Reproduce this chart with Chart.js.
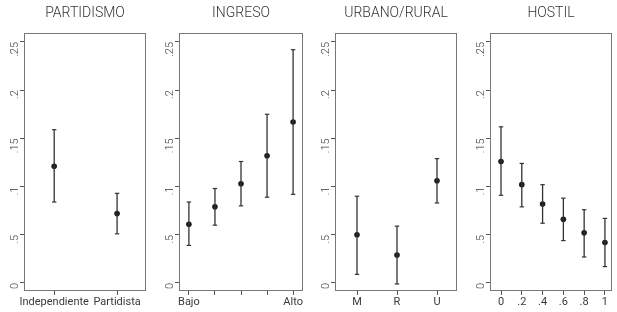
<!DOCTYPE html>
<html>
<head>
<meta charset="utf-8">
<script src="https://cdn.jsdelivr.net/npm/chart.js@4.4.1/dist/chart.umd.min.js"></script>
<style>
  html, body { margin: 0; padding: 0; background: #fff; }
  body { width: 617px; height: 312px; position: relative; overflow: hidden; }
  .panel { position: absolute; top: 0; height: 312px; }
</style>
</head>
<body>
<div class="panel" id="p0"><canvas id="c0"></canvas></div>
<div class="panel" id="p1"><canvas id="c1"></canvas></div>
<div class="panel" id="p2"><canvas id="c2"></canvas></div>
<div class="panel" id="p3"><canvas id="c3"></canvas></div>
<script>
// y axis (shared) - the original labels .05 as ".5"
const yTickValues = [0, 0.05, 0.1, 0.15, 0.2, 0.25];
const yTickLabels = ['0', '.5', '.1', '.15', '.2', '.25'];

// PARTIDISMO
const partX = [1, 2];
const partLabels = ['Independiente', 'Partidista'];
const partEst = [0.121, 0.072];
const partLo = [0.084, 0.051];
const partHi = [0.159, 0.093];

// INGRESO
const ingX = [1, 2, 3, 4, 5];
const ingLabels = ['Bajo', '', '', '', 'Alto'];
const ingEst = [0.061, 0.079, 0.103, 0.132, 0.167];
const ingLo = [0.039, 0.060, 0.080, 0.089, 0.092];
const ingHi = [0.084, 0.098, 0.126, 0.175, 0.242];

// URBANO/RURAL
const urbX = [1, 2, 3];
const urbLabels = ['M', 'R', 'U'];
const urbEst = [0.050, 0.029, 0.106];
const urbLo = [0.009, -0.001, 0.083];
const urbHi = [0.090, 0.059, 0.129];

// HOSTIL
const hosX = [0, 0.2, 0.4, 0.6, 0.8, 1];
const hosLabels = ['0', '.2', '.4', '.6', '.8', '1'];
const hosEst = [0.126, 0.102, 0.082, 0.066, 0.052, 0.042];
const hosLo = [0.091, 0.079, 0.062, 0.044, 0.027, 0.017];
const hosHi = [0.162, 0.124, 0.102, 0.088, 0.076, 0.067];

const panels = [
  { title: 'PARTIDISMO', x: partX, labels: partLabels, est: partEst, lo: partLo, hi: partHi, xmin: 0.52, xmax: 2.46, left: 24, right: 146 },
  { title: 'INGRESO', x: ingX, labels: ingLabels, est: ingEst, lo: ingLo, hi: ingHi, xmin: 0.62, xmax: 5.38, left: 179, right: 303 },
  { title: 'URBANO/RURAL', x: urbX, labels: urbLabels, est: urbEst, lo: urbLo, hi: urbHi, xmin: 0.45, xmax: 3.5, left: 335, right: 457 },
  { title: 'HOSTIL', x: hosX, labels: hosLabels, est: hosEst, lo: hosLo, hi: hosHi, xmin: -0.106, xmax: 1.068, left: 490, right: 612 }
];

const Y_AXIS_W = 24;
const BOX_TOP = 33;
const X_AXIS_H = 21;
const textColor = '#3a3a3a';
const fontFamily = 'Roboto, "Noto Sans", sans-serif';

const framePlugin = {
  id: 'frame',
  afterDraw(chart, args, opts) {
    const { ctx, chartArea: a } = chart;
    ctx.save();
    ctx.strokeStyle = '#777';
    ctx.lineWidth = 1;
    ctx.strokeRect(a.left + 0.5, a.top + 0.5, a.right - a.left - 1, a.bottom - a.top - 1);
    ctx.fillStyle = '#333';
    ctx.font = '300 14px ' + fontFamily;
    ctx.textAlign = 'center';
    ctx.textBaseline = 'middle';
    ctx.fillText(opts.title, (a.left + a.right) / 2, 13);
    ctx.restore();
  }
};

panels.forEach((p, i) => {
  const w = p.right - p.left;
  const div = document.getElementById('p' + i);
  div.style.left = (p.left - Y_AXIS_W) + 'px';
  div.style.width = (w + Y_AXIS_W + 24) + 'px';

  // error bars: one dataset, segments split by null points
  const bars = [];
  p.x.forEach((xv, k) => {
    bars.push({ x: xv, y: p.lo[k] }, { x: xv, y: p.hi[k] }, { x: xv, y: null });
  });

  new Chart(document.getElementById('c' + i), {
    type: 'scatter',
    data: {
      datasets: [
        {
          type: 'line',
          data: bars,
          borderColor: '#333',
          borderWidth: 1.3,
          pointStyle: 'line',
          pointRadius: 2.2,
          pointBorderColor: '#333',
          pointBorderWidth: 1.2,
          spanGaps: false,
          fill: false
        },
        {
          data: p.x.map((xv, k) => ({ x: xv, y: p.est[k] })),
          pointRadius: 2.8,
          pointBackgroundColor: '#1a1a1a',
          pointBorderColor: '#1a1a1a',
          pointBorderWidth: 0
        }
      ]
    },
    options: {
      responsive: true,
      maintainAspectRatio: false,
      animation: false,
      layout: { padding: { top: BOX_TOP, right: 24, bottom: 0, left: 0 } },
      plugins: {
        legend: { display: false },
        tooltip: { enabled: false },
        frame: { title: p.title }
      },
      scales: {
        x: {
          type: 'linear',
          min: p.xmin,
          max: p.xmax,
          afterBuildTicks: axis => { axis.ticks = p.x.map(v => ({ value: v })); },
          afterFit: axis => { axis.height = X_AXIS_H; },
          border: { display: false },
          grid: { drawOnChartArea: false, drawTicks: true, tickLength: 4, color: '#555' },
          ticks: {
            autoSkip: false,
            maxRotation: 0,
            padding: 1,
            color: textColor,
            font: { family: fontFamily, size: 11, weight: 400 },
            callback: (v, idx) => p.labels[idx]
          }
        },
        y: {
          min: -0.0083,
          max: 0.2593,
          afterBuildTicks: axis => { axis.ticks = yTickValues.map(v => ({ value: v })); },
          afterFit: axis => { axis.width = Y_AXIS_W; },
          border: { display: false },
          grid: { drawOnChartArea: false, drawTicks: true, tickLength: 4, color: '#555' },
          ticks: {
            minRotation: 90,
            maxRotation: 90,
            padding: 5,
            color: textColor,
            font: { family: fontFamily, size: 11, weight: 300 },
            callback: (v, idx) => yTickLabels[idx]
          }
        }
      }
    },
    plugins: [framePlugin]
  });
});
</script>
</body>
</html>
